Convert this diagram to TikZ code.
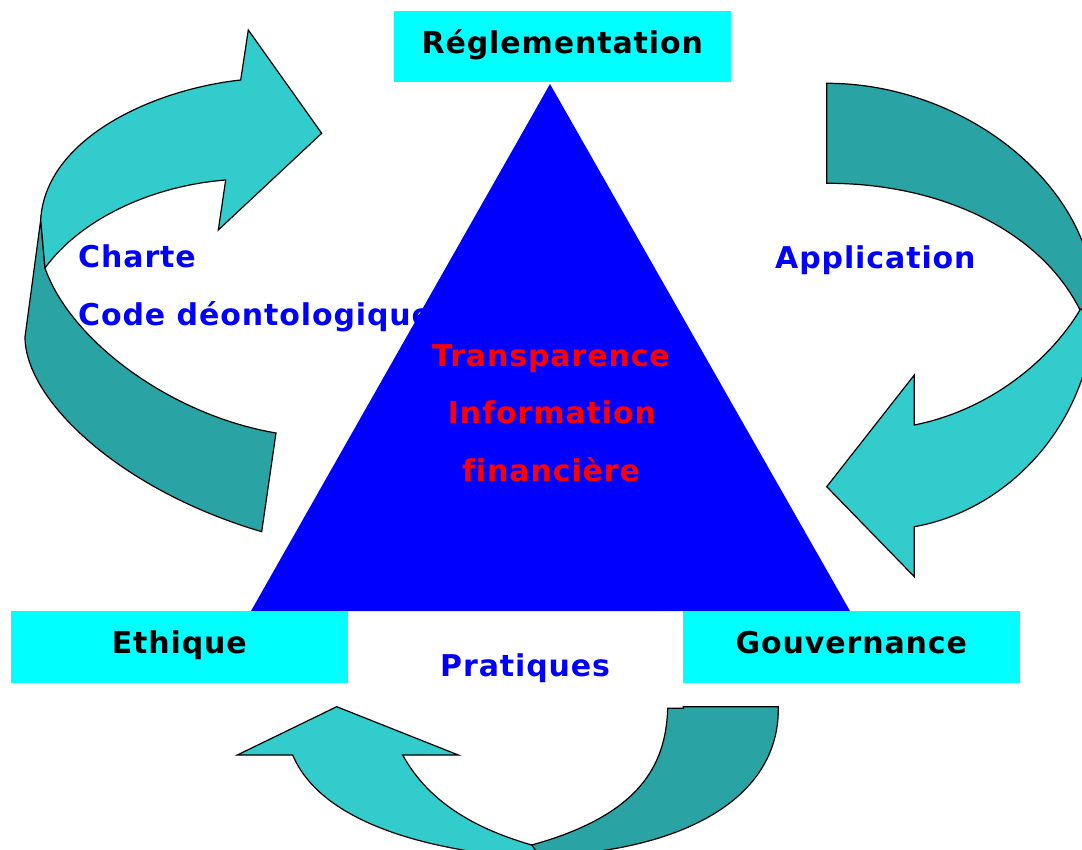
\documentclass[tikz,border=0pt]{standalone}
\usepackage{fontspec}
\setmainfont{DejaVu Sans}[LetterSpace=3.0, Ligatures=NoCommon]
\definecolor{cyanbox}{RGB}{0,255,255}
\definecolor{tealL}{RGB}{51,204,204}
\definecolor{tealD}{RGB}{41,163,163}
\definecolor{triblue}{RGB}{0,0,255}
\begin{document}
\begin{tikzpicture}[x=1pt,y=-1pt,
  lbl/.style={font=\bfseries\fontsize{30}{36}\selectfont, inner sep=0pt},
  box/.style={lbl, fill=cyanbox, draw=none, minimum width=337pt, minimum height=71.5pt, text height=22pt, text depth=9pt, text=black},
  bluetxt/.style={lbl, text=triblue, anchor=base west},
  redtxt/.style={lbl, text=red, anchor=base},
  light/.style={fill=tealL, draw=black, line width=1.2pt, line join=miter},
  dark/.style={fill=tealD, draw=black, line width=1.2pt, line join=miter}]
\useasboundingbox (0,0) rectangle (1082,850);
\clip (0,0) rectangle (1082,850);

% ---- left arrow (Charte) ----
\draw[dark] (40.7,220) -- (25,337) .. controls (25,400) and (120,490) .. (261.7,531.7)
  -- (276,433) .. controls (170,415) and (70,340) .. (45,268) -- cycle;
\draw[light] (240.7,80) -- (248.3,30) -- (321.7,133.3) -- (218.3,230) -- (225.7,180)
  .. controls (150,186) and (80,220) .. (45,268) -- (40.7,220)
  .. controls (45,140) and (150,90) .. (240.7,80) -- cycle;

% ---- right arrow (Application) ----
\draw[dark] (826.7,83.3) .. controls (960,83) and (1090,180) .. (1095,300)
  -- (1080,310) .. controls (1040,230) and (940,183) .. (826.7,183.3) -- cycle;
\draw[light] (1080,310) -- (1095,300) .. controls (1095,420) and (1010,510) .. (914.3,526.7)
  -- (914.3,576.7) -- (826.7,486.7) -- (914.3,375) -- (914.3,425)
  .. controls (990,410) and (1050,360) .. (1080,310) -- cycle;

% ---- bottom arrow (Pratiques) ----
\draw[light] (292.7,755) -- (237.3,755) -- (336.7,706.7) -- (458.3,755) -- (402.7,755)
  .. controls (430,805) and (480,830) .. (531.7,845) -- (560,858) -- (530,858)
  .. controls (420,850) and (320,820) .. (292.7,755) -- cycle;
\draw[dark] (667.7,708.3) -- (683.3,708.3) -- (683.3,706.7) -- (778.3,706.7)
  .. controls (780,800) and (680,852) .. (540,856) -- (531.7,845)
  .. controls (640,815) and (666,765) .. (667.7,708.3) -- cycle;

% ---- texts on the left ----
\node[bluetxt] (charte) at (78,268) {Charte};
\node[bluetxt] (code) at (78,326) {Code déontologique};

% ---- triangle ----
\fill[triblue] (550,84) -- (850,611) -- (251,611) -- cycle;

% ---- boxes ----
\node[box] (regl) at (562.3,46.7) {Réglementation};
\node[box] (ethique) at (179.3,646.8) {Ethique};
\node[box] (gouv) at (851.3,646.8) {Gouvernance};

% ---- other texts ----
\node[bluetxt] (appli) at (775,269) {Application};
\node[bluetxt] (prat) at (440,676.7) {Pratiques};
\node[redtxt] (t1) at (551,366.5) {Transparence};
\node[redtxt] (t2) at (552,423.3) {Information};
\node[redtxt] (t3) at (551,481.7) {financière};
\end{tikzpicture}
\end{document}
